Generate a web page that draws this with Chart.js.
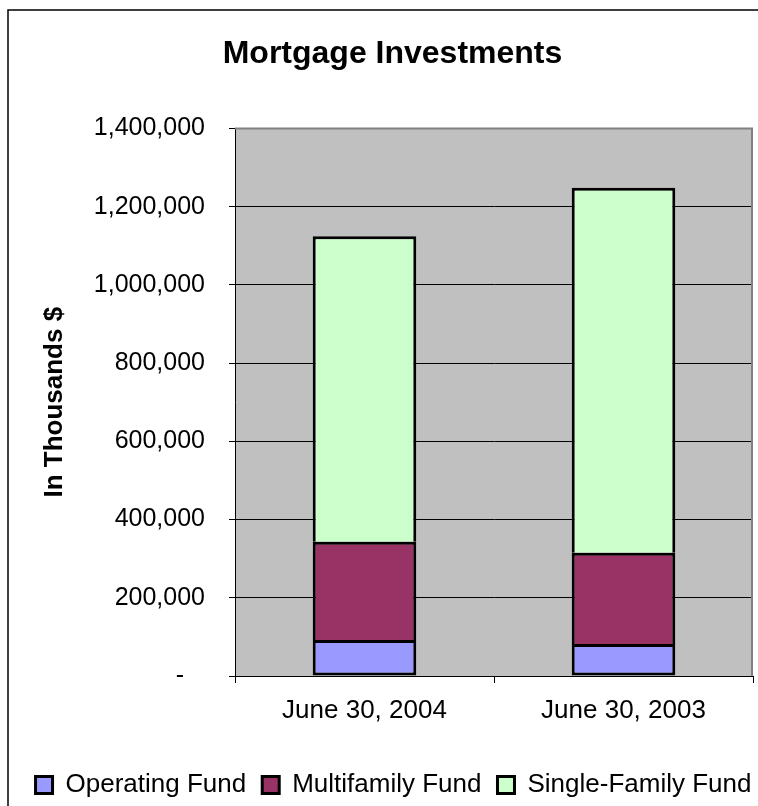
<!DOCTYPE html>
<html>
<head>
<meta charset="utf-8">
<title>Mortgage Investments</title>
<script src="https://cdn.jsdelivr.net/npm/chart.js@4.4.1/dist/chart.umd.min.js"></script>
<style>
  html, body { margin: 0; padding: 0; background: #fff; }
  #wrap { width: 758px; height: 806px; }
</style>
</head>
<body>
<div id="wrap"><canvas id="chart" width="758" height="806"></canvas></div>
<script>
// ── Data (in thousands of dollars) ────────────────────────────────
const CATEGORIES    = ["June 30, 2004", "June 30, 2003"];
const OPERATING     = [92000, 82000];
const MULTIFAMILY   = [251000, 233000];
const SINGLE_FAMILY = [781000, 933000];

const Y_TICK_LABELS = ["-   ", "200,000", "400,000", "600,000", "800,000",
                       "1,000,000", "1,200,000", "1,400,000"];

const FONT = "'Liberation Sans', Arial, Helvetica, sans-serif";

// ── Background, outer frame, grey plot area ──────────────────────
const frame = {
  id: "frame",
  beforeDraw(chart) {
    const { ctx, chartArea: a } = chart;
    ctx.save();
    ctx.fillStyle = "#fff";
    ctx.fillRect(0, 0, chart.width, chart.height);
    ctx.strokeStyle = "#000";
    ctx.lineWidth = 1.5;
    ctx.strokeRect(8, 10, chart.width + 20, chart.height + 20);
    ctx.fillStyle = "#c0c0c0";
    ctx.fillRect(a.left, a.top, a.right - a.left, a.bottom - a.top);
    ctx.restore();
  },
  afterDraw(chart) {
    const { ctx, chartArea: a } = chart;
    ctx.save();
    ctx.strokeStyle = "#808080";
    ctx.lineWidth = 2;
    ctx.beginPath();
    ctx.moveTo(a.left, a.top);
    ctx.lineTo(a.right - 1, a.top);
    ctx.lineTo(a.right - 1, a.bottom);
    ctx.stroke();
    ctx.restore();
  },
};

// title and legend in the original sit a little right of centre
const shiftBlocks = {
  id: "shiftBlocks",
  afterLayout(chart) {
    chart.legend.left += 17;
    chart.legend.right += 17;
    chart.titleBlock.left += 16;
    chart.titleBlock.right += 16;
  },
};

new Chart(document.getElementById("chart"), {
  type: "bar",
  data: {
    labels: CATEGORIES,
    datasets: [
      { label: "Operating Fund",     data: OPERATING,     backgroundColor: "#9999ff", borderSkipped: false },
      { label: "Multifamily Fund",   data: MULTIFAMILY,   backgroundColor: "#993366" },
      { label: "Single-Family Fund", data: SINGLE_FAMILY, backgroundColor: "#ccffcc" },
    ].map((d) => ({
      ...d,
      borderColor: "#000",
      borderWidth: 3,
      barPercentage: 0.4,
      categoryPercentage: 1.0,
    })),
  },
  options: {
    responsive: false,
    animation: false,
    layout: { padding: { left: 0, right: 5, top: 0, bottom: -2 } },
    scales: {
      x: {
        stacked: true,
        afterFit: (s) => { s.height = 80; },
        grid: { display: true, drawOnChartArea: false, drawTicks: true, tickLength: 7, color: "#000", offset: true },
        border: { color: "#000", width: 1 },
        ticks: { color: "#000", padding: 12, font: { family: FONT, size: 26 } },
      },
      y: {
        stacked: true,
        min: 0,
        max: 1400000,
        afterFit: (s) => { s.width = 235; },
        grid: { color: "#000", lineWidth: 1, tickLength: 6 },
        border: { color: "#000", width: 1 },
        ticks: {
          stepSize: 200000,
          padding: 24,
          color: "#000",
          font: { family: FONT, size: 25 },
          callback: (v, i) => Y_TICK_LABELS[i],
        },
        title: {
          display: true,
          text: "In Thousands $",
          color: "#000",
          font: { family: FONT, size: 26, weight: "bold" },
          padding: { top: 39, bottom: 0 },
        },
      },
    },
    plugins: {
      title: {
        display: true,
        text: "Mortgage Investments",
        color: "#000",
        font: { family: FONT, size: 32, weight: "bold" },
        padding: { top: 35, bottom: 55 },
      },
      legend: {
        position: "bottom",
        labels: {
          color: "#000",
          font: { family: FONT, size: 26 },
          boxWidth: 17,
          boxHeight: 17,
          padding: 16,
        },
      },
      tooltip: { enabled: false },
    },
  },
  plugins: [frame, shiftBlocks],
});
</script>
</body>
</html>
